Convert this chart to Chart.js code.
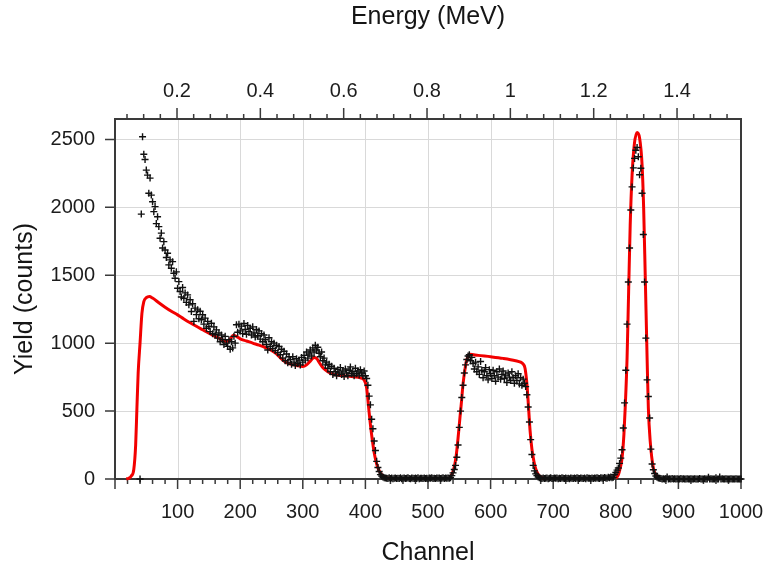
<!DOCTYPE html>
<html>
<head>
<meta charset="utf-8">
<script src="https://cdn.jsdelivr.net/npm/chart.js@4.4.1/dist/chart.umd.min.js"></script>
<style>
  html, body { margin: 0; padding: 0; background: #ffffff; }
  #wrap { width: 768px; height: 573px; }
</style>
</head>
<body>
<div id="wrap"><canvas id="spectrum" width="768" height="573"></canvas></div>
<script>
// Measured spectrum: counts every 2nd channel, starting at channel 40
const expStartChannel = 40;
const expChannelStep = 2;
const expCounts = [
  0, 1950, 2519, 2390, 2352, 2274, 2237, 2103, 2215, 2090,
  2041, 1968, 2005, 1880, 1931, 1858, 1772, 1810, 1700, 1747,
  1686, 1630, 1662, 1576, 1613, 1551, 1600, 1515, 1478, 1525,
  1404, 1453, 1380, 1340, 1410, 1331, 1370, 1300, 1355, 1282,
  1319, 1233, 1290, 1160, 1258, 1210, 1245, 1180, 1235, 1172,
  1209, 1140, 1184, 1110, 1160, 1123, 1085, 1147, 1070, 1120,
  1062, 1098, 1037, 1075, 1010, 1060, 1025, 990, 1050, 1000,
  976, 1025, 955, 1010, 965, 1050, 1000, 1135, 1080, 1140,
  1090, 1125, 1070, 1145, 1100, 1065, 1130, 1085, 1110, 1060,
  1120, 1075, 1045, 1100, 1055, 1090, 1030, 1070, 1010, 1060,
  1025, 990, 950, 1040, 975, 1010, 960, 1000, 945, 985,
  930, 975, 915, 955, 890, 940, 870, 920, 855, 900,
  880, 845, 900, 860, 835, 885, 850, 875, 840, 895,
  860, 910, 875, 935, 890, 920, 950, 905, 965, 935,
  985, 950, 970, 925, 900, 935, 870, 890, 840, 860,
  815, 845, 790, 830, 770, 815, 790, 760, 805, 780,
  820, 770, 795, 755, 810, 780, 760, 800, 825, 775,
  790, 760, 815, 775, 795, 765, 805, 780, 760, 795,
  760, 740, 690, 610, 546, 440, 370, 280, 210, 130,
  85, 55, 32, 22, 15, 10, 8, 6, 4, 9,
  3, 7, 2, 5, 8, 3, 6, 4, 9, 2,
  5, 7, 3, 6, 10, 4, 2, 8, 5, 3,
  7, 4, 9, 2, 6, 5, 3, 8, 4, 6,
  2, 7, 5, 9, 3, 6, 4, 8, 5, 7,
  3, 6, 9, 4, 7, 5, 8, 5, 10, 25,
  45, 70, 100, 160, 250, 380, 500, 600, 690, 780,
  840, 880, 905, 915, 870, 895, 850, 810, 860, 790,
  825, 770, 865, 800, 745, 790, 820, 760, 730, 805,
  775, 740, 800, 760, 720, 790, 750, 810, 735, 770,
  795, 740, 765, 710, 780, 750, 725, 790, 745, 705,
  760, 725, 775, 700, 745, 690, 735, 705, 680, 620,
  530, 420, 290, 180, 100, 60, 38, 25, 15, 10,
  6, 4, 8, 3, 5, 7, 2, 6, 9, 4,
  3, 7, 5, 8, 2, 6, 4, 9, 5, 3,
  7, 4, 6, 2, 8, 5, 3, 7, 4, 9,
  5, 3, 8, 6, 4, 7, 2, 9, 5, 6,
  4, 8, 3, 7, 5, 10, 6, 4, 9, 7,
  5, 11, 8, 6, 12, 9, 14, 10, 12, 32,
  48, 65, 81, 115, 154, 215, 375, 560, 800, 1140,
  1450, 1700, 1980, 2150, 2290, 2360, 2420, 2440, 2372, 2240,
  2287, 2103, 1800, 1450, 1037, 730, 607, 449, 220, 110,
  68, 40, 22, 12, 8, 5, 3, 0, 2, 0,
  4, 15, 0, 2, 0, 3, 0, 1, 0, 2,
  0, 0, 3, 0, 1, 0, 0, 2, 0, 0,
  1, 0, 0, 2, 0, 0, 0, 3, 0, 0,
  0, 2, 0, 0, 12, 0, 1, 0, 0, 0,
  10, 0, 0, 14, 0, 2, 0, 0, 1, 0,
  0, 0, 2, 0, 0, 0, 1, 0, 0, 0,
  0
];

// Simulated spectrum (null = no yield, line not drawn)
const simChannels = [
  18, 22, 26, 30, 33, 35, 37, 40, 43, 46, 50, 55, 60, 70, 80, 90, 100,
  110, 120, 130, 140, 150, 160, 170, 178, 184, 189, 194, 200, 210, 220, 230,
  240, 250, 258, 265, 272, 280, 290, 300, 306, 312, 318, 322, 327, 333, 340,
  349, 360, 370, 381, 392, 398, 402, 405, 408, 411, 414, 417, 420, 424, 429,
  434, 440, 485, 534, 537, 541, 545, 548, 551, 553, 556, 559, 562, 565,
  567, 580, 600, 620, 640, 648, 652, 655, 658, 661, 663, 666, 669, 672, 676,
  681, 690, 740, 800, 804, 807, 810, 813, 815, 818, 820.5, 823, 826, 829.5,
  834, 838, 842, 844.5, 847, 850, 852, 855, 860, 868
];
const simCounts = [
  0, 5, 22, 70, 250, 520, 780, 1000, 1220, 1305, 1335, 1343, 1332, 1298, 1265, 1235, 1208,
  1178, 1150, 1124, 1099, 1074, 1050, 1028, 1012, 1028, 1058, 1050, 1032, 1016, 1000, 985,
  968, 947, 922, 888, 862, 846, 836, 828, 840, 868, 895, 888, 852, 815, 790,
  770, 762, 758, 752, 745, 728, 670, 534, 400, 289, 195, 128, 82, 44, 20,
  10, 4, null, 5, 25, 70, 170, 300, 450, 545, 700, 805, 880, 912,
  918, 910, 900, 888, 871, 860, 846, 815, 700, 500, 360, 220, 135, 75, 35,
  12, 2, null, 5, 30, 80, 154, 330, 522, 890, 1380, 1870, 2237, 2460,
  2550, 2510, 2311, 1993, 1502, 890, 522, 276, 81, 7
];

// Axis ticks
const channelTicks = [0, 100, 200, 300, 400, 500, 600, 700, 800, 900, 1000];
const countTicks = [0, 500, 1000, 1500, 2000, 2500];
const energyTicks = [0.2, 0.4, 0.6, 0.8, 1, 1.2, 1.4];
const energyRange = [0.0512, 1.5535];   // MeV at channel 0 and channel 1000
const countRange = [0, 2650];

const expData = expCounts.map((c, i) => ({ x: expStartChannel + i * expChannelStep, y: c }));
const simData = simChannels.map((ch, i) => ({ x: ch, y: simCounts[i] }));

const FONT = "'Liberation Sans', Arial, Helvetica, sans-serif";
const AXIS_COLOR = '#3a3a3a';

// Grid, frame and tick marks (major + minor), placed through the chart scales
const frameAndTicks = {
  id: 'frameAndTicks',
  beforeDatasetsDraw(chart) {
    const { ctx, chartArea: a, scales } = chart;
    const x = scales.x, y = scales.y, e = scales.xE;
    ctx.save();

    ctx.strokeStyle = '#d9d9d9';
    ctx.lineWidth = 1;
    ctx.beginPath();
    channelTicks.forEach(v => {
      if (v <= x.min || v >= x.max) return;
      const px = Math.round(x.getPixelForValue(v)) + 0.5;
      ctx.moveTo(px, a.top); ctx.lineTo(px, a.bottom);
    });
    countTicks.forEach(v => {
      if (v <= y.min || v >= y.max) return;
      const py = Math.round(y.getPixelForValue(v)) + 0.5;
      ctx.moveTo(a.left, py); ctx.lineTo(a.right, py);
    });
    ctx.stroke();

    ctx.strokeStyle = AXIS_COLOR;
    ctx.lineWidth = 1.5;
    ctx.beginPath();
    // channel axis: major every 100, minor every 20
    for (let c = 0; c <= 1000; c += 20) {
      const px = x.getPixelForValue(c);
      const len = c % 100 === 0 ? 10 : 5;
      ctx.moveTo(px, a.bottom); ctx.lineTo(px, a.bottom + len);
    }
    // energy axis: major every 0.2 MeV, minor every 0.04 MeV
    for (let k = 1; k * 0.04 <= e.max; k++) {
      const v = k * 0.04;
      if (v < e.min) continue;
      const px = e.getPixelForValue(v);
      const len = k % 5 === 0 ? 11 : 5;
      ctx.moveTo(px, a.top); ctx.lineTo(px, a.top - len);
    }
    // counts axis
    countTicks.forEach(v => {
      const py = y.getPixelForValue(v);
      ctx.moveTo(a.left, py); ctx.lineTo(a.left - 10, py);
    });
    ctx.stroke();

    ctx.lineWidth = 2;
    ctx.strokeRect(a.left, a.top, a.right - a.left, a.bottom - a.top);
    ctx.restore();
  }
};

const tickFont = { family: FONT, size: 20 };
const titleFont = { family: FONT, size: 25 };

// Fixed axis sizes; end-label overhang is absorbed by the layout padding
const fixHorizontal = h => s => { s.height = h; s.paddingLeft = 0; s.paddingRight = 0; };
const fixVertical = w => s => { s.width = w; s.paddingTop = 0; s.paddingBottom = 0; };

new Chart(document.getElementById('spectrum'), {
  type: 'scatter',
  data: {
    datasets: [
      {
        label: 'Measured',
        data: expData,
        showLine: false,
        pointStyle: 'cross',
        pointRadius: 3.5,
        pointBorderWidth: 1.4,
        borderColor: '#111111',
        backgroundColor: '#111111',
        clip: false
      },
      {
        label: 'Simulated',
        data: simData,
        showLine: true,
        spanGaps: false,
        pointRadius: 0,
        borderColor: '#f20000',
        borderWidth: 3,
        cubicInterpolationMode: 'monotone',
        fill: false,
        clip: false
      }
    ]
  },
  options: {
    responsive: false,
    animation: false,
    devicePixelRatio: 1,
    layout: { padding: { left: 0, right: 27, top: 0, bottom: 0 } },
    plugins: { legend: { display: false }, tooltip: { enabled: false } },
    scales: {
      x: {
        type: 'linear', position: 'bottom',
        min: 0, max: 1000,
        afterBuildTicks: s => { s.ticks = channelTicks.map(v => ({ value: v })); },
        afterFit: fixHorizontal(94),
        grid: { display: false, drawTicks: false },
        border: { display: false },
        ticks: {
          padding: 21, font: tickFont, color: '#1c1c1c', maxRotation: 0, autoSkip: false,
          callback: v => (v === 0 ? '' : String(v))
        },
        title: { display: true, text: 'Channel', font: titleFont, color: '#151515', padding: { top: 0, bottom: 5 } }
      },
      xE: {
        type: 'linear', position: 'top',
        min: energyRange[0], max: energyRange[1],
        afterBuildTicks: s => { s.ticks = energyTicks.map(v => ({ value: v })); },
        afterFit: fixHorizontal(119),
        grid: { display: false, drawTicks: false },
        border: { display: false },
        ticks: {
          padding: 16, font: tickFont, color: '#1c1c1c', maxRotation: 0, autoSkip: false,
          callback: v => String(parseFloat(Number(v).toFixed(2)))
        },
        title: { display: true, text: 'Energy (MeV)', font: titleFont, color: '#151515', padding: { top: 2, bottom: 0 } }
      },
      y: {
        type: 'linear', position: 'left',
        min: countRange[0], max: countRange[1],
        afterBuildTicks: s => { s.ticks = countTicks.map(v => ({ value: v })); },
        afterFit: fixVertical(115),
        grid: { display: false, drawTicks: false },
        border: { display: false },
        ticks: { padding: 20, font: tickFont, color: '#1c1c1c', autoSkip: false, callback: v => String(v) },
        title: { display: true, text: 'Yield (counts)', font: titleFont, color: '#151515', padding: { top: 10, bottom: 0 } }
      }
    }
  },
  plugins: [frameAndTicks]
});
</script>
</body>
</html>
